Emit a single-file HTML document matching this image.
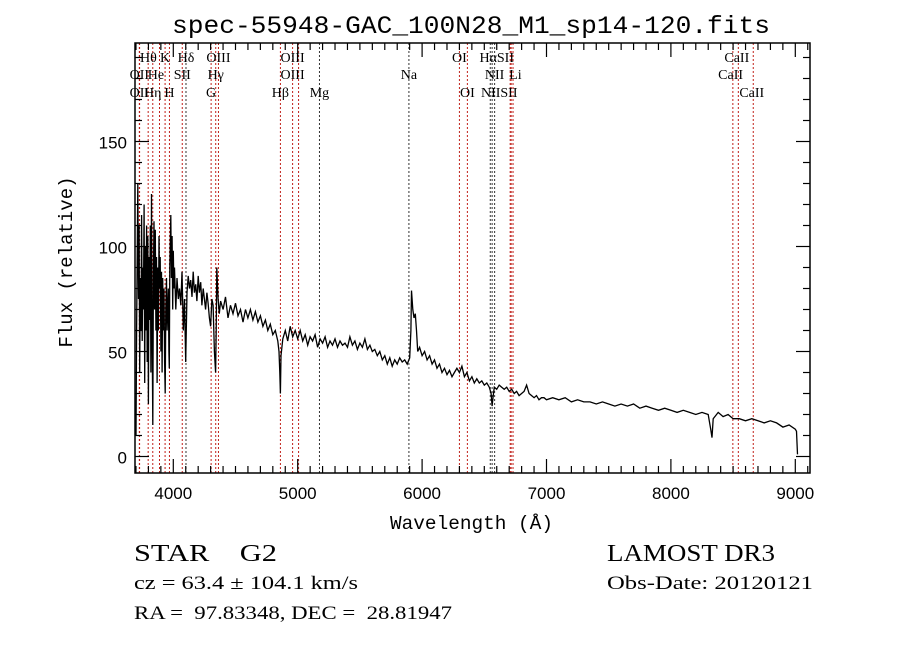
<!DOCTYPE html>
<html><head><meta charset="utf-8"><style>
body{margin:0;background:#fff;}
svg{display:block;}
</style></head><body>
<svg id="chart" width="900" height="649" viewBox="0 0 900 649" xmlns="http://www.w3.org/2000/svg">
<rect width="900" height="649" fill="#fff"/>
<text x="172" y="33" textLength="598" lengthAdjust="spacingAndGlyphs" font-family="Liberation Mono, monospace" font-size="25">spec-55948-GAC_100N28_M1_sp14-120.fits</text>
<g id="lines"></g>
<g id="labels"></g>
<polyline id="spec" fill="none" stroke="#000" stroke-width="1.3"/>
<g id="axes"></g>
<text x="390" y="529" textLength="163" lengthAdjust="spacingAndGlyphs" font-family="Liberation Mono, monospace" font-size="19">Wavelength (Å)</text>
<text transform="translate(72,262) rotate(-90)" text-anchor="middle" font-family="Liberation Mono, monospace" font-size="19">Flux (relative)</text>
<text x="134" y="561" xml:space="preserve" textLength="143" lengthAdjust="spacingAndGlyphs" font-family="Liberation Serif, serif" font-size="24">STAR    G2</text>
<text x="134" y="589" textLength="224" lengthAdjust="spacingAndGlyphs" font-family="Liberation Serif, serif" font-size="19">cz = 63.4 ± 104.1 km/s</text>
<text x="134" y="619" xml:space="preserve" textLength="318" lengthAdjust="spacingAndGlyphs" font-family="Liberation Serif, serif" font-size="19">RA =  97.83348, DEC =  28.81947</text>
<text x="607" y="561" textLength="168" lengthAdjust="spacingAndGlyphs" font-family="Liberation Serif, serif" font-size="24">LAMOST DR3</text>
<text x="607" y="589" textLength="206" lengthAdjust="spacingAndGlyphs" font-family="Liberation Serif, serif" font-size="19">Obs-Date: 20120121</text>
</svg>
<script>
const wavelengths=[3700,3705,3710,3715,3720,3725,3730,3735,3740,3745,3750,3755,3760,3765,3770,3775,3780,3785,3790,3795,3800,3805,3810,3815,3820,3825,3830,3835,3840,3845,3850,3855,3860,3865,3870,3875,3880,3885,3890,3895,3900,3905,3910,3915,3920,3925,3930,3935,3940,3945,3950,3960,3965,3968,3972,3980,3985,3990,3995,4000,4005,4010,4020,4030,4040,4050,4060,4070,4080,4090,4100,4110,4120,4130,4140,4150,4160,4170,4180,4190,4200,4210,4220,4230,4240,4250,4260,4270,4280,4290,4300,4310,4320,4330,4340,4345,4350,4360,4370,4380,4400,4420,4440,4460,4480,4500,4520,4540,4560,4580,4600,4620,4640,4660,4680,4700,4720,4740,4760,4780,4800,4820,4840,4850,4856,4861,4866,4880,4900,4920,4940,4960,4980,5000,5020,5040,5060,5080,5100,5120,5140,5160,5180,5200,5220,5240,5260,5280,5300,5320,5340,5360,5380,5400,5420,5440,5460,5480,5500,5520,5540,5560,5580,5600,5620,5640,5660,5680,5700,5720,5740,5760,5780,5800,5820,5840,5860,5880,5900,5910,5915,5925,5935,5945,5955,5965,5980,6000,6020,6040,6060,6080,6100,6120,6140,6160,6180,6200,6220,6240,6260,6280,6300,6320,6340,6360,6380,6400,6420,6440,6460,6480,6500,6520,6540,6555,6563,6570,6580,6600,6620,6640,6660,6680,6700,6720,6740,6760,6780,6800,6820,6840,6860,6880,6900,6920,6940,6960,6980,7000,7050,7100,7150,7200,7250,7300,7350,7400,7450,7500,7550,7600,7650,7700,7750,7800,7850,7900,7950,8000,8050,8100,8150,8200,8250,8300,8320,8330,8340,8380,8420,8460,8500,8550,8600,8650,8700,8750,8800,8850,8900,8950,9000,9010,9018];
const fluxes=[10,60,95,130,75,110,40,85,60,115,55,90,70,120,35,100,60,110,45,105,25,95,65,110,40,125,55,15,85,112,70,108,60,95,35,90,60,105,80,95,50,88,40,85,60,80,45,30,70,85,60,80,50,42,90,115,85,105,70,98,80,90,70,85,75,80,72,88,60,75,45,78,86,80,84,76,88,78,82,74,86,78,83,72,80,75,70,78,73,66,62,75,72,50,40,60,90,75,68,74,70,76,66,72,68,73,67,70,64,70,66,70,65,69,64,67,62,65,60,63,58,60,55,50,40,30,48,56,60,55,62,57,60,56,60,55,58,53,57,55,58,52,56,54,57,52,55,53,56,52,55,53,54,52,57,53,55,51,54,52,56,51,53,50,51,48,50,46,48,44,47,43,46,44,47,45,46,44,47,60,79,70,66,68,60,50,52,48,50,46,48,44,46,42,44,40,42,39,41,38,40,42,40,43,38,40,36,38,35,37,35,36,34,35,33,30,24,28,33,32,34,33,32,33,31,32,30,31,29,30,31,34,30,29,28,29,27,28,28,27,28,27,28,26,27,26,26,25,26,25,24,25,24,25,23,24,23,22,23,22,21,22,21,20,21,20,13,9,18,21,19,20,18,18,17,18,17,16,17,16,14,15,13,12,1];
const lineWaves=[3727,3729,3798,3835,3889,3934,3969,4072,4102,4304,4341,4363,4861,4959,5007,5175,5894,6300,6364,6548,6563,6583,6708,6716,6731,8498,8542,8662];
const lineRed=[1,1,1,1,1,1,1,1,0,1,1,1,1,1,1,0,0,1,1,0,0,0,1,1,1,1,1,1];
const labelText=["Hθ","K","Hδ","OIII","OIII","OI","HαSII","CaII","OII","He","SII","Hγ","OIII","Na","NII","Li","CaII","OII","Hη","H","G","Hβ","Mg","OI","NIISII","CaII"];
const labelWave=[3800,3934,4102,4363,4959,6300,6600,8530,3727,3860,4072,4341,4959,5894,6583,6750,8480,3727,3835,3969,4304,4861,5175,6364,6620,8650];
const labelRow=[0,0,0,0,0,0,0,0,1,1,1,1,1,1,1,1,1,2,2,2,2,2,2,2,2,2];
const xTicks=[4000,5000,6000,7000,8000,9000];
const yTicks=[0,50,100,150];

const L=135,R=810,T=43,B=473;
const X=w=>173.3+(w-4000)*0.1244;
const Y=f=>456.5-f*2.1;
const NS="http://www.w3.org/2000/svg";
function mk(tag,parent){const e=document.createElementNS(NS,tag);parent.appendChild(e);return e;}

const spec=document.getElementById('spec');
spec.setAttribute('points',wavelengths.map((w,i)=>X(w).toFixed(1)+','+Y(fluxes[i]).toFixed(1)).join(' '));

const lg=document.getElementById('lines');
lineWaves.forEach((w,i)=>{
  const l=mk('line',lg);
  
  
  l.setAttribute('x1',X(w));l.setAttribute('x2',X(w));
  l.setAttribute('y1',T);l.setAttribute('y2',B);
  l.setAttribute('stroke',lineRed[i]?'#c0201a':'#333');
  l.setAttribute('stroke-width','1');
  l.setAttribute('stroke-dasharray','2,2');
});
const lb=document.getElementById('labels');
const rowY=[62,79,97];
labelText.forEach((t,i)=>{
  const e=mk('text',lb);
  
  
  e.setAttribute('x',X(labelWave[i]));
  e.setAttribute('y',rowY[labelRow[i]]);
  e.setAttribute('text-anchor','middle');
  e.setAttribute('font-family','Liberation Serif, serif');
  e.setAttribute('font-size','14');
  e.textContent=t;
});

const ax=document.getElementById('axes');
const box=mk('rect',ax);


box.setAttribute('x',L);box.setAttribute('y',T);box.setAttribute('width',R-L);box.setAttribute('height',B-T);
box.setAttribute('fill','none');box.setAttribute('stroke','#000');box.setAttribute('stroke-width','1.5');
function tick(x1,y1,x2,y2){const t=mk('line',ax);t.setAttribute('x1',x1);t.setAttribute('y1',y1);t.setAttribute('x2',x2);t.setAttribute('y2',y2);t.setAttribute('stroke','#000');t.setAttribute('stroke-width','1.2');}
for(let w=3700;w<=9100;w+=100){const x=X(w);if(x<L||x>R)continue;const len=(w%1000===0)?14:7;tick(x,B,x,B-len);tick(x,T,x,T+len);}
for(let f=0;f<=190;f+=10){const y=Y(f);if(y<T)continue;const len=(f%50===0)?14:7;tick(L,y,L+len,y);tick(R,y,R-len,y);}
xTicks.forEach(v=>{const e=mk('text',ax);e.setAttribute('x',X(v));e.setAttribute('y',499);e.setAttribute('text-anchor','middle');e.setAttribute('font-family','Liberation Sans, sans-serif');e.setAttribute('font-size','17');e.textContent=v;});
yTicks.forEach(v=>{const e=mk('text',ax);e.setAttribute('x',127);e.setAttribute('y',Y(v)+7);e.setAttribute('text-anchor','end');e.setAttribute('font-family','Liberation Sans, sans-serif');e.setAttribute('font-size','17');e.textContent=v;});
</script>
</body></html>
